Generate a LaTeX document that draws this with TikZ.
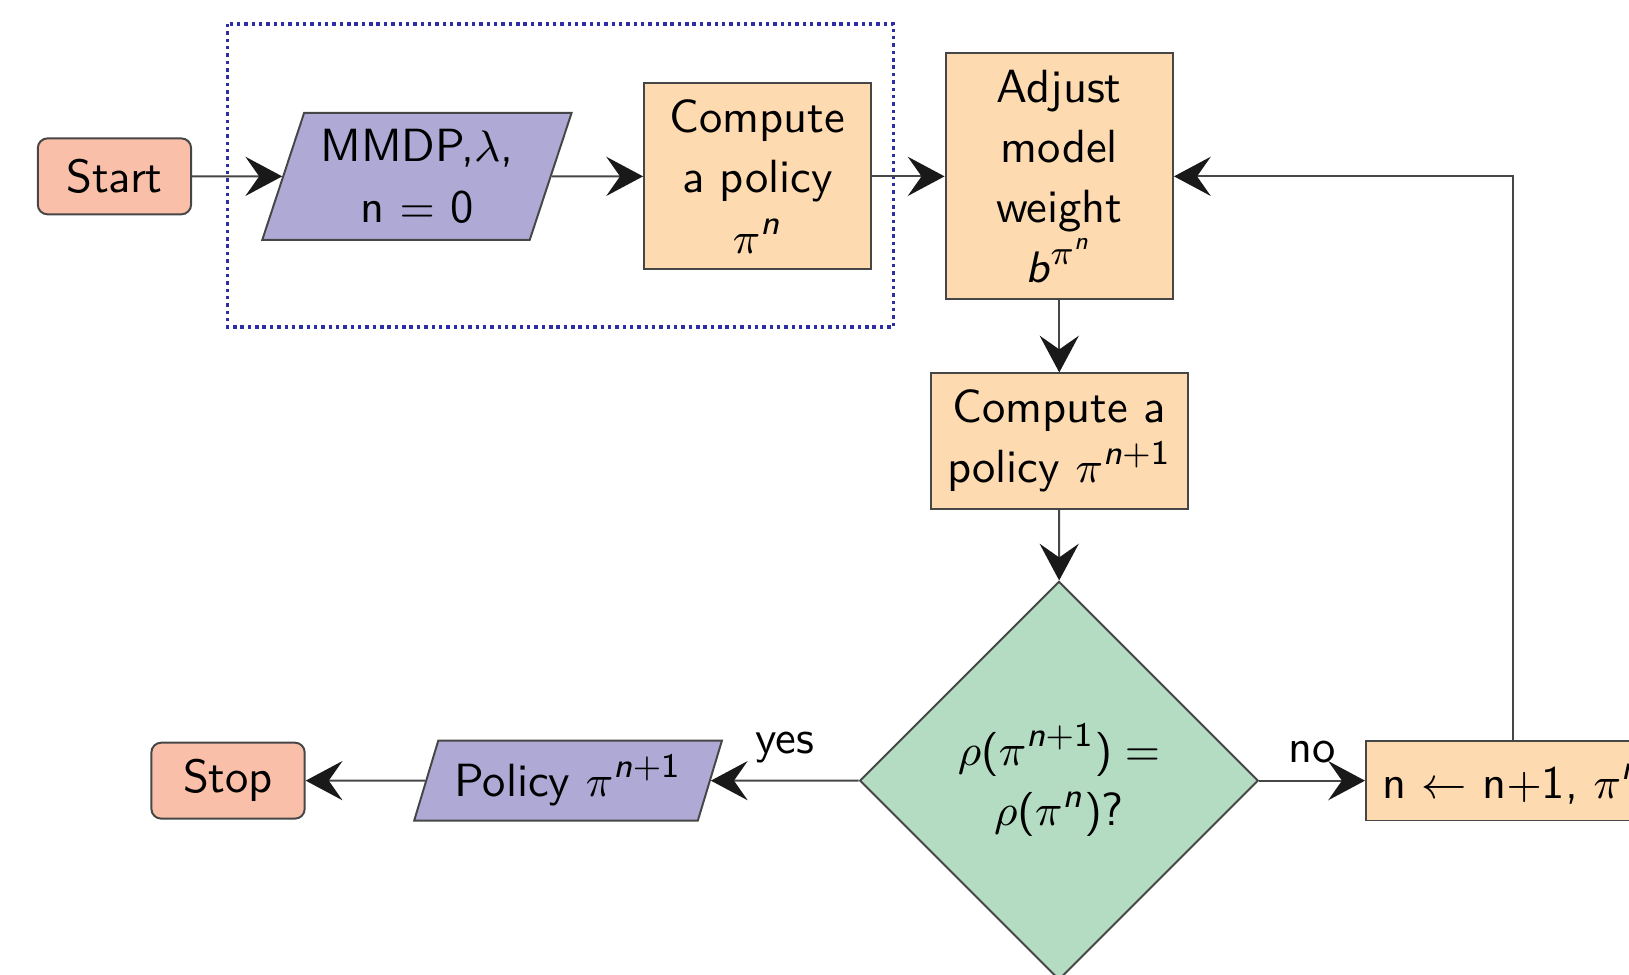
\documentclass[tikz,border=0pt]{standalone}
\renewcommand{\familydefault}{\sfdefault}
\usetikzlibrary{shapes.geometric, arrows.meta}

% Matematica in sans: cifre e operatori diritti, lettere latine inclinate
\DeclareSymbolFont{operators}{OT1}{cmss}{m}{n}
\DeclareSymbolFont{sfinclinato}{OT1}{cmss}{m}{sl}
\DeclareMathSymbol{n}{\mathalpha}{sfinclinato}{`n}
\DeclareMathSymbol{b}{\mathalpha}{sfinclinato}{`b}

% Colori dei blocchi
\definecolor{rossoinizio}{RGB}{249,191,169}
\definecolor{violaio}{RGB}{175,170,213}
\definecolor{arancioproc}{RGB}{253,218,176}
\definecolor{verdedec}{RGB}{179,220,194}
\definecolor{bluecornice}{RGB}{45,45,165}
\definecolor{grigiolinea}{RGB}{70,70,70}

\tikzset{
    inizio/.style={rectangle, rounded corners=2pt, draw=grigiolinea, fill=rossoinizio, minimum width=1.1cm, minimum height=0.545cm},
    ingresso/.style={trapezium, trapezium left angle=70, trapezium right angle=110, trapezium stretches=true, draw=grigiolinea, fill=violaio, align=center, inner sep=1pt},
    processo/.style={rectangle, draw=grigiolinea, fill=arancioproc, align=center},
    decisione/.style={diamond, aspect=1, draw=grigiolinea, fill=verdedec, align=center, inner sep=0pt, minimum size=2.86cm},
    freccia/.style={draw=grigiolinea, -{Stealth[length=7.5pt, width=8pt, inset=2.8pt, color=black!90]}},
}

\begin{document}
\begin{tikzpicture}[font=\fontsize{9.5}{12.3}\selectfont]
    % Area del disegno
    \useasboundingbox (0,0) rectangle (11.686,-6.994);
    \clip (0,0) rectangle (11.686,-6.994);

    % Riquadro punteggiato attorno all'inizializzazione
    \draw[bluecornice, line width=0.7pt, dash pattern=on 0.7pt off 0.8pt] (1.632,-0.172) rectangle (6.410,-2.346);

    % Riga superiore
    \node[inizio] (start) at (0.821,-1.265) {Start};
    \node[ingresso, minimum width=2.22cm, minimum height=0.91cm] (mmdp) at (2.991,-1.265) {MMDP,$\lambda$,\\ n $=$ 0};
    \node[processo, minimum width=1.628cm, minimum height=1.334cm] (pin) at (5.434,-1.265) {Compute\\ a policy\\ $\pi^n$};
    \node[processo, minimum width=1.632cm, minimum height=1.765cm] (adjust) at (7.599,-1.265) {Adjust\\ model\\ weight\\ $b^{\pi^n}$};

    % Colonna centrale
    \node[processo, minimum width=1.84cm, minimum height=0.961cm] (pin1) at (7.599,-3.164) {Compute a\\ policy $\pi^{n+1}$};
    \node[decisione] (dec) at (7.597,-5.6) {$\rho(\pi^{n+1}) =$\\ $\rho(\pi^n)$?};

    % Riga inferiore
    \node[ingresso, minimum width=2.21cm, minimum height=0.574cm] (pol) at (4.075,-5.6) {Policy $\pi^{n+1}$};
    \node[inizio] (stop) at (1.636,-5.6) {Stop};
    \node[processo, anchor=west, minimum height=0.545cm] (upd) at (9.792,-5.6) {n $\leftarrow$ n$+$1, $\pi^n \leftarrow \pi^{n+1}$};
    \coordinate (ritorno) at (10.854,-5.6);

    % Collegamenti
    \draw[freccia] (start) -- (mmdp);
    \draw[freccia] (mmdp) -- (pin);
    \draw[freccia] (pin) -- (adjust);
    \draw[freccia] (adjust) -- (pin1);
    \draw[freccia] (pin1) -- (dec);
    \draw[freccia] (dec.west) -- node[above] {yes} (pol.east);
    \draw[freccia] (pol) -- (stop);
    \draw[freccia] (dec.east) -- node[above] {no} (upd.west);
    \draw[freccia] (ritorno |- upd.north) |- (adjust.east);
\end{tikzpicture}
\end{document}
